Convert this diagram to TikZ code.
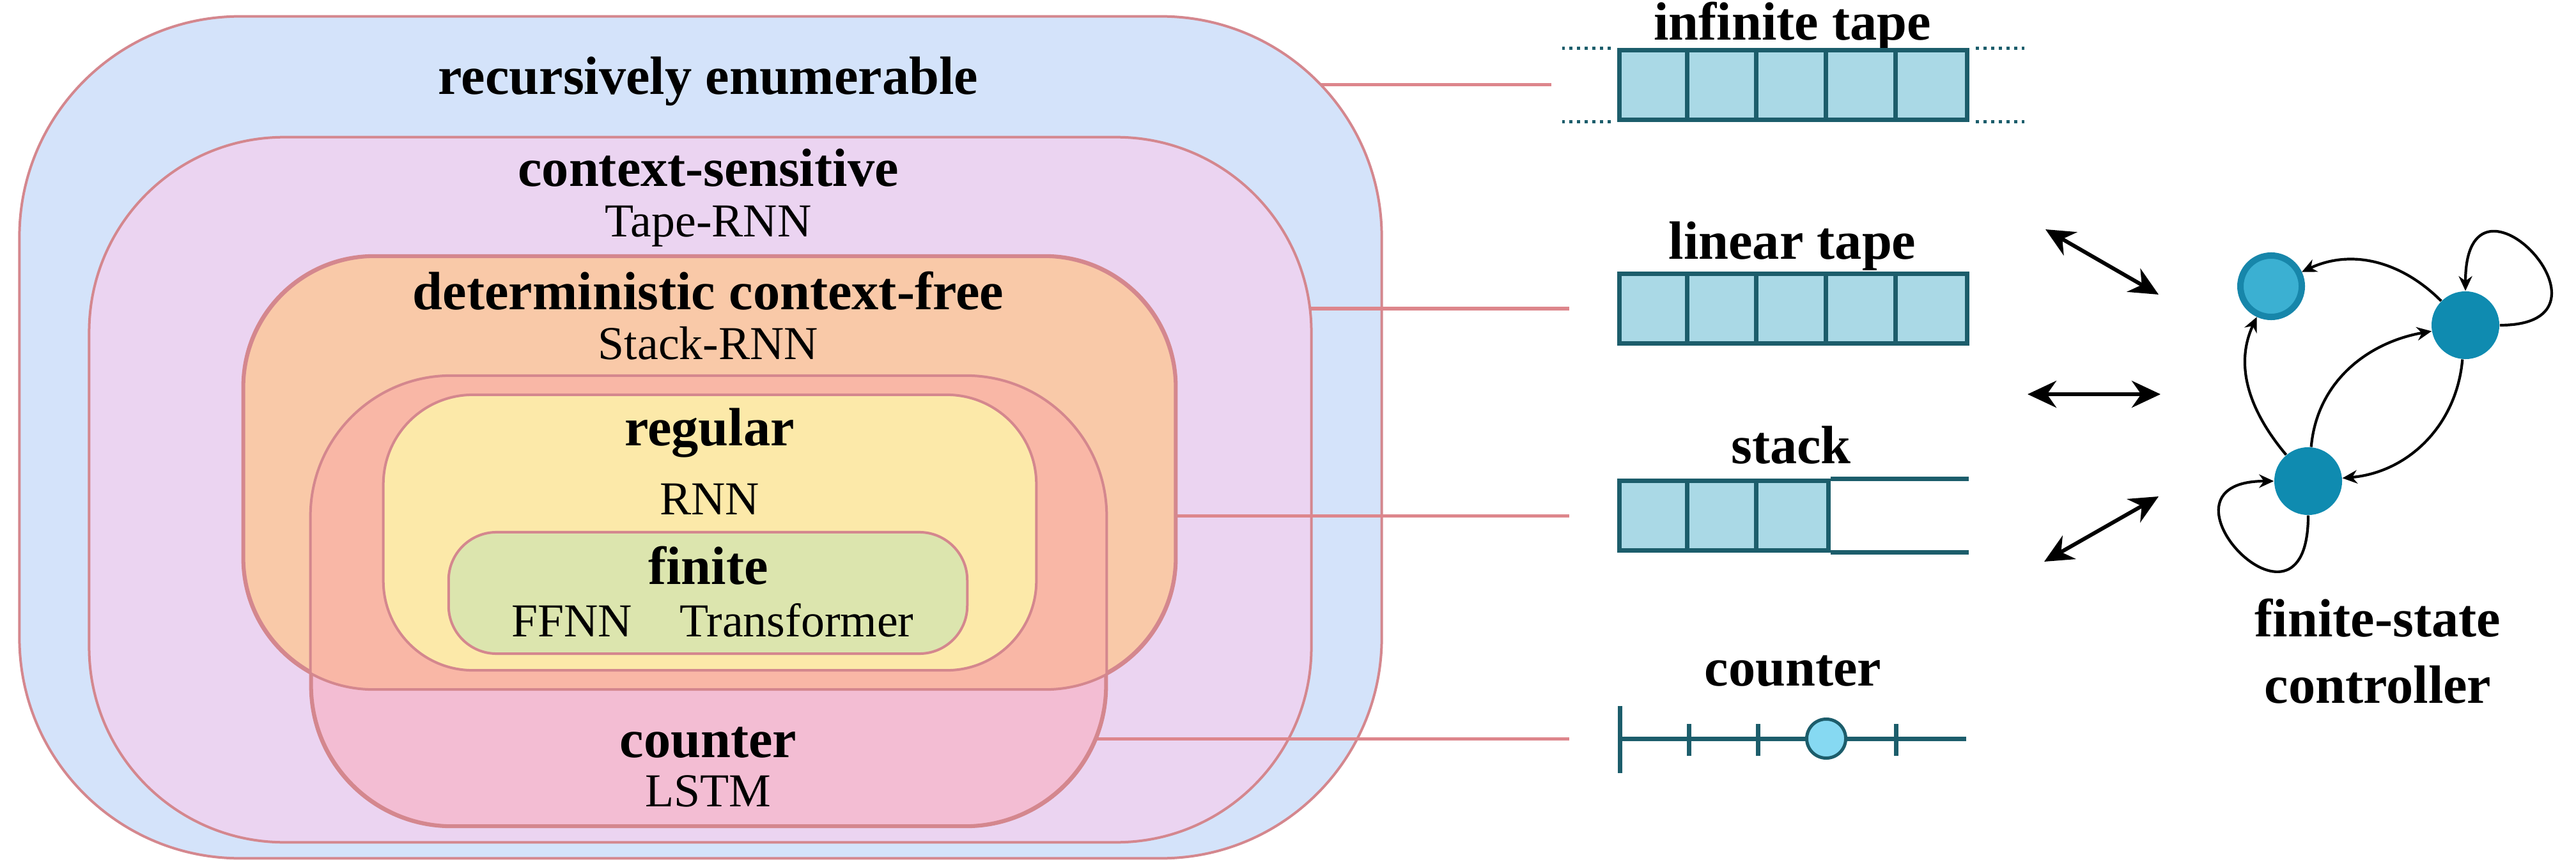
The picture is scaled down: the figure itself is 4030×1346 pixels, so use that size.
\documentclass[tikz,border=0pt]{standalone}
\usepackage{fontspec}
\setmainfont{Liberation Serif}
\usetikzlibrary{arrows.meta}
\definecolor{reBlue}{HTML}{D4E3FA}
\definecolor{csPurple}{HTML}{EBD4F1}
\definecolor{dcfOrange}{HTML}{F9C9A8}
\definecolor{cntPink}{HTML}{F3BDD3}
\definecolor{overlapSalmon}{HTML}{F9B7A6}
\definecolor{regYellow}{HTML}{FCE9A9}
\definecolor{finGreen}{HTML}{DCE5AE}
\definecolor{boxline}{HTML}{D4878E}
\definecolor{connline}{HTML}{DD868C}
\definecolor{tapefill}{HTML}{AAD9E6}
\definecolor{tapeline}{HTML}{1C5D6B}
\definecolor{stateblue}{HTML}{0F8BB0}
\definecolor{acceptin}{HTML}{3BB0D2}
\definecolor{acceptring}{HTML}{1786AA}
\definecolor{counterdot}{HTML}{86D9F2}
\begin{document}
\begin{tikzpicture}[x=0.01cm,y=0.01cm,
  setbox/.style={draw=boxline, line width=0.4mm, rounded corners=#1, inner sep=0pt},
  title/.style={font=\fontsize{24}{28}\selectfont\bfseries, anchor=base, inner sep=0pt},
  model/.style={font=\fontsize{21}{25}\selectfont, anchor=base, inner sep=0pt},
  conn/.style={draw=connline, line width=0.5mm},
  tapebox/.style={draw=tapeline, fill=tapefill, line width=0.7mm, inner sep=0pt, minimum height=1.08cm},
  tapestroke/.style={draw=tapeline, line width=0.7mm},
  dotline/.style={draw=tapeline, line width=0.5mm, dash pattern=on 0.5mm off 0.7mm},
  dbl/.style={line width=0.6mm, {Stealth[length=4.5mm,width=4.2mm]}-{Stealth[length=4.5mm,width=4.2mm]}},
  state/.style={circle, fill=stateblue, minimum size=1.06cm, inner sep=0pt},
  fsm/.style={line width=0.42mm, -{Stealth[length=2.3mm,width=2.1mm]}}
]
\useasboundingbox (0,0) rectangle (4030,-1346);

% connector end points
\coordinate (c1) at (2427,-133);
\coordinate (c2) at (2455,-483);
\coordinate (c3) at (2455,-807);
\coordinate (c4) at (2455,-1156);

% nested language classes
\coordinate (reC) at (1096,-684.5);
\draw[conn] (reC |- c1) -- (c1);
\node[setbox=3.45cm, fill=reBlue, minimum width=21.30cm, minimum height=13.17cm] (re) at (reC) {};
\coordinate (csC) at (1095.5,-766.5);
\draw[conn] (csC |- c2) -- (c2);
\node[setbox=3.05cm, fill=csPurple, minimum width=19.11cm, minimum height=11.03cm] (cs) at (csC) {};
\coordinate (dcfC) at (1110,-739.5);
\coordinate (cntC) at (1108.5,-941);
\draw[conn] (dcfC |- c3) -- (c3);
\draw[conn] (cntC |- c4) -- (c4);
\node[setbox=2.05cm, fill=dcfOrange, minimum width=14.56cm, minimum height=6.75cm] (dcf) at (dcfC) {};
\node[setbox=2.2cm, fill=cntPink, minimum width=12.41cm, minimum height=7.02cm] (cnt) at (cntC) {};
\begin{scope}
  \clip[rounded corners=2.05cm] (dcf.south west) rectangle (dcf.north east);
  \fill[overlapSalmon, rounded corners=2.2cm] (cnt.south west) rectangle (cnt.north east);
\end{scope}
\draw[boxline, line width=0.4mm, rounded corners=2.05cm] (dcf.south west) rectangle (dcf.north east);
\draw[boxline, line width=0.4mm, rounded corners=2.2cm] (cnt.south west) rectangle (cnt.north east);
\node[setbox=1.4cm, fill=regYellow, minimum width=10.21cm, minimum height=4.31cm] (reg) at (1110.5,-833.5) {};
\node[setbox=0.75cm, fill=finGreen, minimum width=8.11cm, minimum height=1.90cm] (fin) at (1107.5,-928) {};

% class labels
\node[title] (tre) at (1108,-148) {recursively enumerable};
\node[title] (tcs) at (1108,-292) {context-sensitive};
\node[model] (mcs) at (1108,-371) {Tape-RNN};
\node[title] (tdcf) at (1108,-485) {deterministic context-free};
\node[model] (mdcf) at (1108,-562) {Stack-RNN};
\node[title] (treg) at (1110,-697) {regular};
\node[model] (mreg) at (1110,-805) {RNN};
\node[title] (tfin) at (1108,-914) {finite};
\node[model] (mfin) at (1115,-996) {FFNN\hspace{1em}Transformer};
\node[title] (tcnt) at (1108,-1185) {counter};
\node[model] (mcnt) at (1108,-1262) {LSTM};

% infinite tape
\node[title] (lit) at (2804,-63) {infinite tape};
\node[tapebox, minimum width=5.43cm] (it) at (2805.5,-133) {};
\foreach \i in {1,...,4} \draw[tapestroke] ([xshift=\i*1.086cm]it.north west) -- ([xshift=\i*1.086cm]it.south west);
\draw[dotline] ([xshift=-1mm]it.north west) -- ++(-76,0);
\draw[dotline] ([xshift=-1mm]it.south west) -- ++(-76,0);
\draw[dotline] ([xshift=1mm]it.north east) -- ++(76,0);
\draw[dotline] ([xshift=1mm]it.south east) -- ++(76,0);

% linear tape
\node[title] (llt) at (2804,-406) {linear tape};
\node[tapebox, minimum width=5.43cm] (lt) at (2805.5,-483) {};
\foreach \i in {1,...,4} \draw[tapestroke] ([xshift=\i*1.086cm]lt.north west) -- ([xshift=\i*1.086cm]lt.south west);

% stack
\node[title] (lst) at (2802,-725) {stack};
\node[tapebox, minimum width=3.26cm] (st) at (2697,-807) {};
\foreach \i in {1,2} \draw[tapestroke] ([xshift=\i*1.086cm]st.north west) -- ([xshift=\i*1.086cm]st.south west);
\draw[tapestroke] (st.north east) -- ++(216,0);
\draw[tapestroke] (st.south east) -- ++(216,0);

% counter
\node[title] (lct) at (2805,-1073) {counter};
\coordinate (cl) at (2534,-1156);
\coordinate (cr) at (3076,-1156);
\draw[tapestroke] (cl) -- (cr);
\draw[tapestroke] ([yshift=5.1mm]cl) -- ([yshift=-5.4mm]cl);
\foreach \x in {2642,2750,2966} \draw[tapestroke] (\x,-1133) -- (\x,-1183);
\node[circle, draw=tapeline, fill=counterdot, line width=0.5mm, minimum size=0.61cm, inner sep=0pt] (cc) at (2857,-1156) {};

% connectors of the interface
\coordinate (a1s) at (3200,-359); \coordinate (a1e) at (3377,-461);
\coordinate (a2s) at (3172,-617); \coordinate (a2e) at (3380,-617);
\coordinate (a3s) at (3198,-879); \coordinate (a3e) at (3377,-777);
\draw[dbl] (a1s) -- (a1e);
\draw[dbl] (a2s) -- (a2e);
\draw[dbl] (a3s) -- (a3e);

% finite-state controller
\node[circle, fill=acceptin, draw=acceptring, line width=1mm, minimum size=0.96cm, inner sep=0pt] (acc) at (3553,-448) {};
\node[state] (q1) at (3857,-509) {};
\node[state] (q2) at (3611,-753) {};
\draw[fsm] (q1) to[out=135, in=25] (acc);
\draw[fsm] (q1.east) .. controls +(210,0) and +(0,226) .. (q1.north);
\draw[fsm] (q2.south) .. controls +(0,-226) and +(-210,0) .. (q2.west);
\draw[fsm] (q2) to[out=130, in=-115] (acc);
\draw[fsm] (q2) to[out=85, in=190] (q1);
\draw[fsm] (q1) to[out=-95, in=5] (q2);
\node[title] (lfs1) at (3720,-996) {finite-state};
\node[title] (lfs2) at (3720,-1100) {controller};
\end{tikzpicture}
\end{document}
